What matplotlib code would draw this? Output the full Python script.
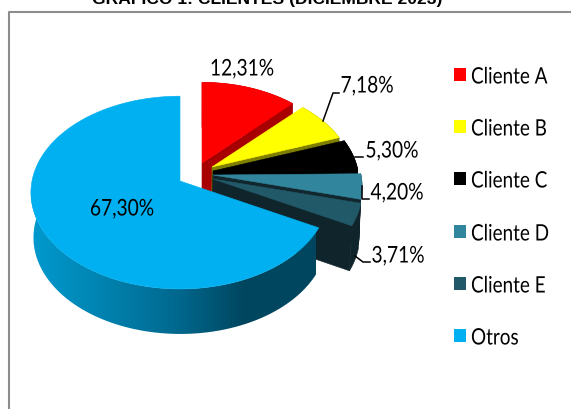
import matplotlib
matplotlib.use("Agg")
import matplotlib.pyplot as plt
import numpy as np
from matplotlib.colors import LinearSegmentedColormap
from matplotlib.patches import Polygon, Rectangle
from matplotlib.patheffects import AbstractPathEffect
from matplotlib.transforms import Affine2D

clients = ["Cliente A", "Cliente B", "Cliente C", "Cliente D", "Cliente E", "Otros"]
shares = [12.31, 7.18, 5.30, 4.20, 3.71, 67.30]
share_labels = ["12,31%", "7,18%", "5,30%", "4,20%", "3,71%", "67,30%"]
title = "GRÁFICO 1: CLIENTES (DICIEMBRE 2023)"

top_colors = ["#FF0000", "#FFFF00", "#000000", "#31859C", "#215968", "#00B0F0"]
side_colors = ["#A80000", "#7F7F00", "#000000", "#12262E", "#10242C", "#00465F"]

# layout, in pixels of the 571x410 picture
apex_x = [202, 212, 213, 213, 213, 180]
apex_y = [164, 168, 172, 176, 180, 182]
radius_scale = [0.95, 0.95, 0.98, 1.0, 1.0, 1.0]
label_x = [242, 367, 392, 397, 398, 122]
label_y = [71, 88, 153, 195, 258, 211]
RX, RY, PERSP, DEPTH, SHRINK = 148, 95, 0.12, 45, 0.985

FONT = ["Lato", "DejaVu Sans"]


class TallText(AbstractPathEffect):
    # the reference text is squeezed sideways, so stretch the glyphs up
    def draw_path(self, renderer, gc, tpath, affine, rgbFace=None):
        renderer.draw_path(gc, tpath, Affine2D().scale(1, 1.2) + affine, rgbFace)


def rim(i, theta):
    p = radius_scale[i] / (1 + PERSP * np.cos(theta))
    return apex_x[i] + RX * p * np.sin(theta), apex_y[i] - RY * p * np.cos(theta)


def drop(x, y):
    return 200 + (np.asarray(x) - 200) * SHRINK, np.asarray(y) + DEPTH


fig, ax = plt.subplots(figsize=(5.71, 4.10), dpi=100)
ax.set_position([0, 0, 1, 1])
ax.set_xlim(0, 571)
ax.set_ylim(410, 0)
ax.axis("off")

ax.plot([571, 9, 9], [13, 13, 410], color="#8C8C8C", lw=1.5)
ax.text(267, 4, title, ha="center", va="baseline", fontsize=12.6,
        fontweight="bold", family="Liberation Sans", color="black")

# slices go clockwise from twelve o'clock
edges = np.radians(np.cumsum([0] + shares) * 3.6)
for i in range(len(shares)):
    t = np.linspace(edges[i], edges[i + 1], 120)
    x, y = rim(i, t)
    bx, by = drop(x, y)
    wall = np.column_stack([np.r_[x, bx[::-1]], np.r_[y, by[::-1]]])
    if clients[i] == "Otros":
        # outer wall runs light to dark from left to right
        cmap = LinearSegmentedColormap.from_list(
            "wall", ["#009ACF", "#0083B0", "#006A91", "#00465F", "#00465F"])
        im = ax.imshow(np.linspace(0, 1, 256).reshape(1, -1), cmap=cmap,
                       extent=[30, 316, 340, 190], aspect="auto", zorder=3.5)
        im.set_clip_path(Polygon(wall, transform=ax.transData))
        ax.set_xlim(0, 571)
        ax.set_ylim(410, 0)
        top_z = 4
    else:
        z = 2 + i * 0.1
        ax.add_patch(Polygon(wall, fc=side_colors[i], ec=side_colors[i], lw=0.4, zorder=z))
        ax_x, ax_y = drop(apex_x[i], apex_y[i])
        face = [(apex_x[i], apex_y[i]), (x[-1], y[-1]), (bx[-1], by[-1]), (ax_x, ax_y)]
        ax.add_patch(Polygon(face, fc=side_colors[i], ec=side_colors[i], lw=0.4, zorder=z))
        top_z = z + 0.05
    top = np.column_stack([np.r_[apex_x[i], x], np.r_[apex_y[i], y]])
    ax.add_patch(Polygon(top, fc=top_colors[i], ec=top_colors[i], lw=0.4, zorder=top_z))

leaders = [([323, 333, 339], [122, 94, 94]), ([355, 363], [158, 158]),
           ([362, 362, 369], [187, 200, 200]), ([355, 363, 370], [257, 263, 263])]
for lx, ly in leaders:
    ax.plot(lx, ly, color="black", lw=1.1, zorder=5)

for lab, lx, ly in zip(share_labels, label_x, label_y):
    ax.text(lx, ly, lab, ha="center", va="center", fontsize=13.8, family=FONT, color="black",
            zorder=6, path_effects=[TallText()])

legend_y = [76, 128, 180, 233, 285, 337]
for name, color, ly in zip(clients, top_colors, legend_y):
    ax.add_patch(Rectangle((454, ly - 7), 12, 13, fc=color, ec="none", zorder=6))
    ax.text(471, ly + 3, name, ha="left", va="center", fontsize=13.6, family=FONT, color="black",
            zorder=6, path_effects=[TallText()])

fig.savefig("out.png", dpi=100)
plt.close(fig)
